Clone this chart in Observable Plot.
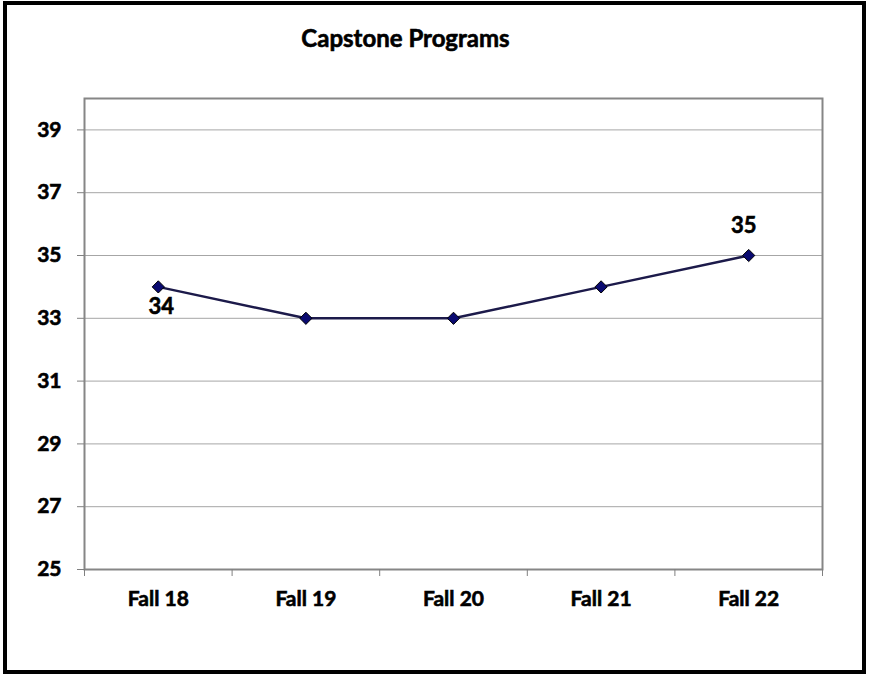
<!DOCTYPE html>
<html><head><meta charset="utf-8">
<script src="https://cdn.jsdelivr.net/npm/d3@7"></script>
<script src="https://cdn.jsdelivr.net/npm/@observablehq/plot@0.6"></script>
<style>
body{margin:0;background:#fff;}
#wrap{position:relative;width:869px;height:675px;font-family:Lato,"Open Sans",sans-serif;}
#border{position:absolute;left:3px;top:1px;width:855px;height:665px;border:4px solid #000;pointer-events:none;}
#title{position:absolute;left:0;width:811px;top:24px;text-align:center;font-weight:bold;font-size:24px;line-height:28px;-webkit-text-stroke:0.6px #000;}
#chart{position:absolute;left:0;top:0;}
#chart svg text{stroke:#000;stroke-width:0.6px;}
</style></head>
<body>
<div id="wrap"><div id="chart"></div><div id="title">Capstone Programs</div><div id="border"></div></div>
<script>
const categories = ["Fall 18", "Fall 19", "Fall 20", "Fall 21", "Fall 22"];
const values = [34, 33, 33, 34, 35];
const yTicks = [25, 27, 29, 31, 33, 35, 37, 39];
const labelled = ["Fall 18", "Fall 22"];

const data = categories.map((c, i) => ({pos: i + 1, cat: c, value: values[i]}));
const boundaries = d3.range(0.5, categories.length + 1, 1);

const chart = Plot.plot({
  width: 869,
  height: 675,
  marginLeft: 84,
  marginRight: 47,
  marginTop: 98,
  marginBottom: 106,
  style: {fontFamily: "Lato, 'Open Sans', sans-serif", fontWeight: "bold", fontSize: "21px", color: "#000", background: "transparent"},
  x: {domain: [0.5, categories.length + 0.5]},
  y: {domain: [25, 40]},
  marks: [
    Plot.gridY(yTicks.filter(v => v > 25), {stroke: "#a6a6a6", strokeOpacity: 1, strokeWidth: 1}),
    Plot.frame({stroke: "#868686", strokeWidth: 2}),
    Plot.axisY(yTicks, {tickSize: 7, tickPadding: 16, stroke: "#808080", fontSize: 21, fontWeight: "bold", fill: "#000", label: null}),
    Plot.axisX(boundaries, {tickSize: 7, stroke: "#808080", tickFormat: () => "", label: null}),
    Plot.axisX(data.map(d => d.pos), {tickSize: 0, tickPadding: 22, tickFormat: p => categories[p - 1], fontSize: 21, fontWeight: "bold", fill: "#000", label: null}),
    Plot.line(data, {x: "pos", y: "value", stroke: "#1c1a4a", strokeWidth: 2.5}),
    Plot.dot(data, {x: "pos", y: "value", symbol: "diamond2", r: 5.5, fill: "#0a0a70", stroke: "#000", strokeWidth: 1}),
    Plot.text(data.filter(d => d.cat === labelled[0]), {x: "pos", y: "value", text: d => String(d.value), dx: 3, dy: 20, fontSize: 22, fontWeight: "bold", fill: "#000"}),
    Plot.text(data.filter(d => d.cat === labelled[1]), {x: "pos", y: "value", text: d => String(d.value), dx: -5, dy: -30, fontSize: 22, fontWeight: "bold", fill: "#000"})
  ]
});
document.getElementById("chart").appendChild(chart);
</script>
</body></html>
